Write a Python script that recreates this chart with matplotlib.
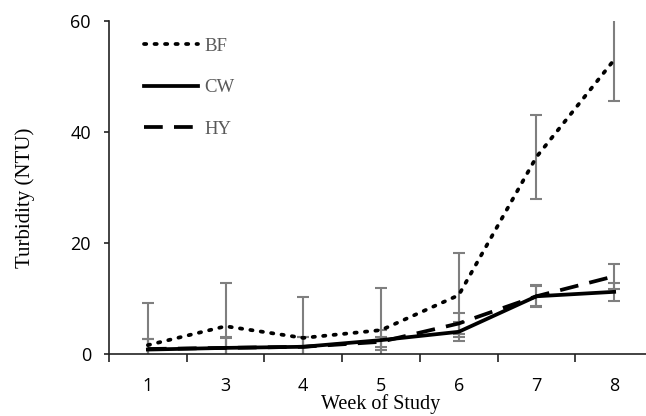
import matplotlib
matplotlib.use("Agg")
import matplotlib.pyplot as plt
import numpy as np

weeks = ["1", "3", "4", "5", "6", "7", "8"]
bf = [1.6, 5.0, 2.9, 4.3, 10.6, 35.5, 53.0]
bf_err = [7.6, 7.8, 7.3, 7.6, 7.6, 7.6, 7.4]
cw = [0.8, 1.1, 1.3, 2.5, 4.0, 10.4, 11.2]
cw_err = [1.9, 1.8, 1.8, 1.8, 1.7, 1.8, 1.6]
hy = [0.9, 1.1, 1.3, 2.2, 5.5, 10.4, 14.0]
hy_err = [1.8, 1.9, 1.8, 0.9, 1.9, 2.0, 2.2]

W, H = 646, 416
fig = plt.figure(figsize=(W / 100, H / 100), dpi=100)
ax = fig.add_axes([109 / W, 62 / H, 544 / W, 333 / H])

x = np.arange(len(weeks))
ecol = "#7f7f7f"
for vals, errs in [(bf, bf_err), (cw, cw_err), (hy, hy_err)]:
    ax.errorbar(x, vals, yerr=errs, fmt="none", ecolor=ecol, elinewidth=1.5,
                capsize=4, capthick=1.5, zorder=2, clip_on=True)

ax.plot(x, bf, color="black", linestyle=(0, (0.6, 2.2)), linewidth=2.7,
        dash_capstyle="round", label="BF", zorder=3)
ax.plot(x, cw, color="black", linestyle="-", linewidth=2.7, label="CW", zorder=3)
ax.plot(x, hy, color="black", linestyle=(0, (5, 3)), linewidth=2.7, label="HY", zorder=3)

ax.set_xlim(-0.5, 6.5)
ax.set_ylim(0, 60)
ax.set_yticks([0, 20, 40, 60])
ax.set_xticks(x)
ax.set_xticklabels(weeks)
ax.set_xticks(np.arange(-0.5, 6.6, 1.0), minor=True)
ax.tick_params(axis="x", which="major", length=0, pad=16.5)
ax.tick_params(axis="x", which="minor", length=6, width=1.2, direction="out", color="#222222")
ax.tick_params(axis="y", length=3.6, width=1.2, direction="out", color="#222222", pad=9.4)
for lab in ax.get_xticklabels() + ax.get_yticklabels():
    lab.set_fontfamily("Open Sans")
    lab.set_fontsize(13)
    lab.set_color("black")

ax.spines["top"].set_visible(False)
ax.spines["right"].set_visible(False)
ax.spines["left"].set_linewidth(1.2)
ax.spines["bottom"].set_linewidth(1.2)
ax.spines["left"].set_color("#222222")
ax.spines["bottom"].set_color("#222222")

ax.set_xlabel("Week of Study", fontfamily="Liberation Serif", fontsize=14.5)
ax.set_ylabel("Turbidity (NTU)", fontfamily="Liberation Serif", fontsize=15)
ax.xaxis.set_label_coords(0.5, -0.121)
ax.yaxis.set_label_coords(-0.136, 0.468)

leg = ax.legend(loc="upper left", bbox_to_anchor=(0.034, 1.0), frameon=False,
                handlelength=2.88, handletextpad=0.3, labelspacing=1.29,
                prop={"family": "Liberation Serif", "size": 13.5})
for t in leg.get_texts():
    t.set_color("#595959")

fig.savefig("out.png", dpi=100)
